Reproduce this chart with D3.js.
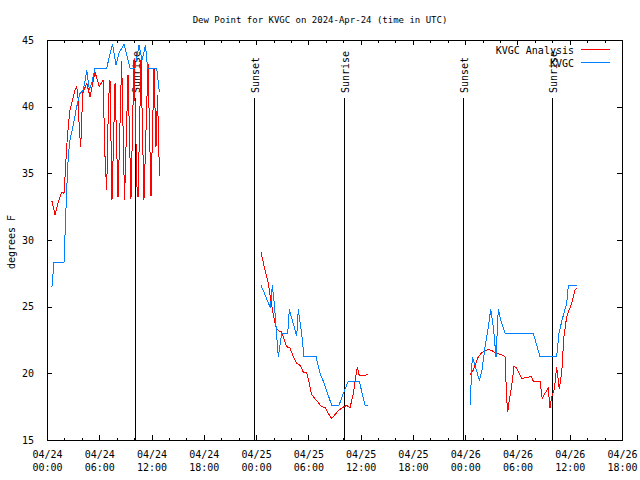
<!DOCTYPE html>
<html>
<head>
<meta charset="utf-8">
<script src="https://cdn.jsdelivr.net/npm/d3@7"></script>
<style>
  html, body { margin: 0; padding: 0; background: #fff; }
  svg { display: block; }
  text { font-family: "DejaVu Sans Mono", monospace; font-size: 10px; fill: #000; }
</style>
</head>
<body>
<svg id="chart" width="640" height="480"></svg>
<script>
// ---------------- data (hours after 2024-04-24 00:00 UTC) ----------------
const titleText = "Dew Point for KVGC on 2024-Apr-24 (time in UTC)";
const yLabel = "degrees F";
const seriesNames = ["KVGC Analysis", "KVGC"];
const seriesColors = ["#ff0000", "#0080ff"];
const yTicks = [15, 20, 25, 30, 35, 40, 45];

// Analysis (red); null = gap
const analysisHours = [
  0.57, 0.92, 1.41, 1.72, 1.95, 2.07, 2.26, 2.44, 2.64, 3.02, 3.21, 3.41, 3.55, 3.71, 3.87, 4.10, 4.56, 4.94, 5.51, 6.00, 6.43, 6.66, 6.85,
  7.06, 7.23, 7.46, 7.81, 8.15, 8.57, 8.90, 9.30, 9.64, 9.99, 10.33, 10.45, 10.79, 11.13, 11.59, 11.94, 12.28, 12.51, 12.68, 12.91,
  18.0,
  24.56, 25.02, 25.40, 25.60, 25.98, 26.25, 26.55, 26.94, 27.51, 27.89, 28.27, 28.66, 29.04, 29.42, 29.81, 29.99, 30.38, 30.57, 31.14, 31.53,
  31.91, 32.29, 32.68, 33.06, 33.44, 33.83, 34.40, 34.78, 35.16, 35.62, 35.85, 36.88,
  42.0,
  48.56, 48.94, 49.51, 49.90, 50.66, 51.05, 51.62, 52.19, 52.57, 52.76, 52.88, 53.06, 53.33, 53.60, 53.91, 54.48, 55.06, 55.63, 55.82,
  56.59, 56.85, 57.16, 57.54, 57.73, 57.93, 58.23, 58.50, 58.80, 59.10, 59.33, 59.65, 60.22, 60.60, 60.84
];
const analysisDewpt = [
  32.9, 31.9, 33.1, 33.6, 33.5, 34.75, 37.0, 38.5, 39.75, 40.75, 41.25, 41.5, 40.8, 38.25, 37.0, 41.0, 41.75, 40.75, 42.6, 41.5, 42.0, 36.25, 33.75,
  40.5, 42.0, 33.0, 41.8, 33.2, 43.4, 33.0, 42.4, 33.1, 43.6, 34.0, 33.2, 43.5, 33.0, 43.3, 33.3, 42.9, 37.0, 40.9, 34.8,
  null,
  29.1, 27.75, 26.75, 25.9, 24.4, 23.5, 23.2, 23.1, 22.0, 21.9, 21.25, 20.75, 20.6, 20.1, 20.05, 19.6, 18.4, 18.25, 17.8, 17.5,
  17.45, 17.0, 16.6, 16.9, 17.2, 17.4, 17.6, 17.4, 18.5, 20.5, 19.8, 19.9,
  null,
  19.9, 20.25, 21.25, 21.55, 21.8, 21.7, 21.5, 21.4, 21.25, 18.1, 17.1, 18.0, 19.0, 20.5, 20.4, 19.6, 19.7, 19.75, 19.4,
  19.4, 18.1, 18.5, 18.9, 17.4, 18.25, 18.8, 20.5, 18.8, 20.2, 22.75, 24.25, 25.25, 26.25, 26.4
];

// Observations (blue); null = gap
const obsHours = [
  0.57, 0.80, 1.95, 2.26, 2.44, 2.64, 2.98, 3.41, 3.79, 4.13, 4.36, 4.56, 4.86, 5.13, 5.51, 6.85, 7.52, 7.92, 8.26, 8.84,
  9.53, 10.10, 10.56, 10.90, 11.31, 11.54, 12.59, 12.89,
  18.0,
  24.56, 25.02, 25.52, 25.65, 25.86, 26.09, 26.29, 26.55, 26.83, 26.94, 27.63, 27.81, 28.06, 28.47, 28.66, 28.84, 29.23, 29.50,
  30.88, 31.34, 31.72, 32.68, 33.52, 34.01, 34.58, 35.85, 36.50, 36.88,
  42.0,
  48.56, 48.82, 49.13, 49.62, 49.90, 50.28, 50.66, 50.93, 51.23, 51.54, 51.80, 52.08, 52.57, 55.82, 56.59, 58.50, 58.77, 59.12,
  59.65, 59.84, 60.84
];
const obsDewpt = [
  26.5, 28.3, 28.3, 33.75, 36.25, 37.5, 38.5, 40.0, 41.0, 41.2, 41.9, 42.75, 41.3, 41.75, 42.9, 42.9, 44.7, 43.1, 44.0, 44.7,
  42.9, 42.9, 44.6, 43.5, 44.6, 42.9, 42.9, 41.1,
  null,
  26.6, 25.9, 25.1, 24.9, 26.6, 25.25, 23.5, 21.25, 22.5, 23.0, 23.0, 24.8, 24.2, 23.25, 22.8, 24.8, 23.0, 21.25,
  21.25, 20.0, 19.4, 17.6, 17.6, 18.5, 19.4, 19.4, 17.6, 17.6,
  null,
  17.6, 21.25, 20.6, 19.5, 20.1, 22.0, 23.5, 24.8, 23.5, 21.25, 24.8, 24.0, 23.0, 23.0, 21.25, 21.25, 23.0, 24.0,
  25.25, 26.6, 26.6
];

// Sun events (hours after start)
const sunLabels = ["Sunrise", "Sunset", "Sunrise", "Sunset", "Sunrise"];
const sunHours = [10.08, 23.77, 34.05, 47.78, 58.02];

// ---------------- drawing ----------------
const T0 = Date.UTC(2024, 3, 24, 0, 0);
const toDate = h => new Date(T0 + h * 3600e3);

const svg = d3.select("#chart");
const L = 47, R = 622, T = 40, B = 440;

const x = d3.scaleUtc().domain([toDate(0), toDate(66)]).range([L, R]);
const y = d3.scaleLinear().domain([15, 45]).range([B, T]);

const majorTicks = d3.utcHour.every(6).range(toDate(0), toDate(66.01));
const minorTicks = d3.utcHour.every(2).range(toDate(0), toDate(66.01));

// minor x ticks bottom & top
svg.append("g").attr("transform", `translate(0,${B})`)
  .call(d3.axisBottom(x).tickValues(minorTicks).tickSize(-2.5).tickFormat(""))
  .call(g => g.select(".domain").remove());
svg.append("g").attr("transform", `translate(0,${T})`)
  .call(d3.axisTop(x).tickValues(minorTicks).tickSize(-2.5).tickFormat(""))
  .call(g => g.select(".domain").remove());

// major x ticks bottom with 2-line labels
const fmtDate = d3.utcFormat("%m/%d"), fmtTime = d3.utcFormat("%H:%M");
const xb = svg.append("g").attr("transform", `translate(0,${B})`)
  .call(d3.axisBottom(x).tickValues(majorTicks).tickSize(-5).tickPadding(0).tickFormat(""))
  .call(g => g.select(".domain").remove());
xb.selectAll(".tick").each(function(d) {
  const t = d3.select(this).append("text").attr("text-anchor", "middle");
  t.append("tspan").attr("x", 0).attr("y", 18).text(fmtDate(d));
  t.append("tspan").attr("x", 0).attr("y", 31).text(fmtTime(d));
});
svg.append("g").attr("transform", `translate(0,${T})`)
  .call(d3.axisTop(x).tickValues(majorTicks).tickSize(-5).tickFormat(""))
  .call(g => g.select(".domain").remove());

// y ticks
svg.append("g").attr("class", "yl").attr("transform", `translate(${L},0)`)
  .call(d3.axisLeft(y).tickValues(yTicks).tickSize(-5).tickPadding(13))
  .call(g => g.select(".domain").remove());
svg.append("g").attr("transform", `translate(${R},0)`)
  .call(d3.axisRight(y).tickValues(yTicks).tickSize(-5).tickFormat(""))
  .call(g => g.select(".domain").remove());

svg.selectAll(".tick line").attr("stroke", "#000").attr("shape-rendering", "crispEdges");
svg.selectAll("g").attr("font-family", null).attr("font-size", null);

// frame
svg.append("rect").attr("x", L).attr("y", T).attr("width", R - L).attr("height", B - T)
  .attr("fill", "none").attr("stroke", "#000").attr("shape-rendering", "crispEdges");

// title & y label
svg.append("text").attr("x", 320).attr("y", 23).attr("text-anchor", "middle")
  .style("font-size", "9px").text(titleText);
svg.append("text").attr("transform", "translate(15,242) rotate(-90)").attr("text-anchor", "middle").text(yLabel);

// sunrise / sunset
const sunTop = 40.65;
sunHours.forEach((h, i) => {
  const sx = Math.round(x(toDate(h))) + 0.5;
  svg.append("line").attr("x1", sx).attr("x2", sx).attr("y1", y(15)).attr("y2", y(sunTop))
    .attr("stroke", "#000").attr("shape-rendering", "crispEdges");
  svg.append("text").attr("transform", `translate(${sx + 4},${y(sunTop) - 5}) rotate(-90)`)
    .attr("text-anchor", "start").text(sunLabels[i]);
});

// series
const mk = (hs, vs) => hs.map((h, i) => ({ t: toDate(h), v: vs[i] }));
const line = d3.line().defined(d => d.v != null).x(d => x(d.t)).y(d => y(d.v));
const series = [mk(analysisHours, analysisDewpt), mk(obsHours, obsDewpt)];
series.forEach((s, i) => {
  svg.append("path").datum(s).attr("d", line).attr("fill", "none")
    .attr("stroke", seriesColors[i]).attr("stroke-width", 1).attr("shape-rendering", "crispEdges");
});

// legend
seriesNames.forEach((n, i) => {
  const ly = 49.5 + i * 13;
  svg.append("text").attr("x", 574).attr("y", ly + 4).attr("text-anchor", "end").text(n);
  svg.append("line").attr("x1", 581).attr("x2", 610).attr("y1", ly).attr("y2", ly)
    .attr("stroke", seriesColors[i]).attr("shape-rendering", "crispEdges");
});
</script>
</body>
</html>
